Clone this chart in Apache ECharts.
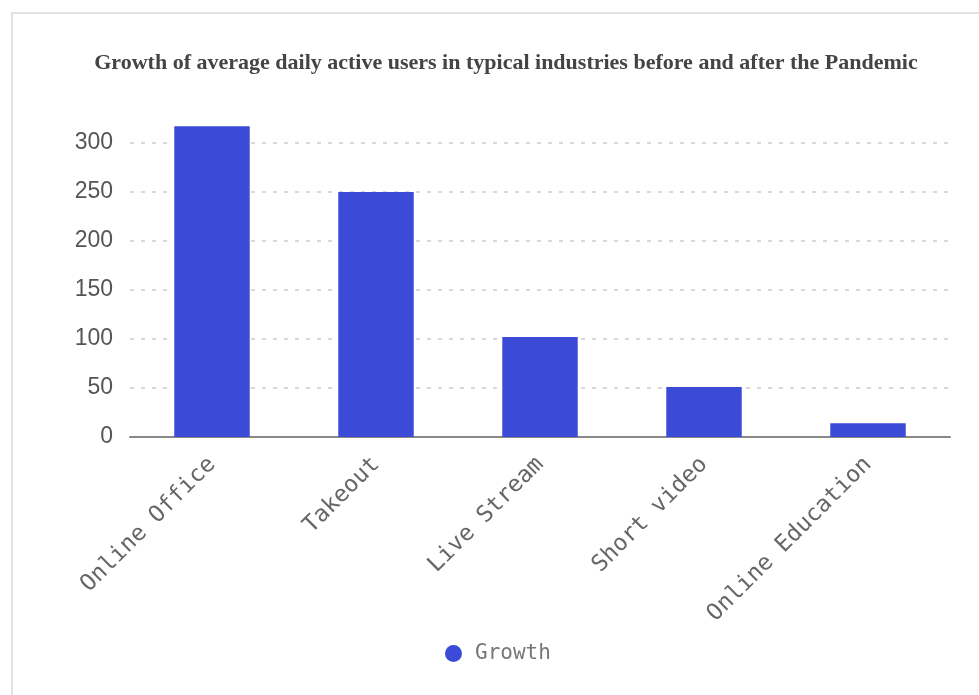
<!DOCTYPE html>
<html>
<head>
<meta charset="utf-8">
<script src="https://cdn.jsdelivr.net/npm/echarts@6/dist/echarts.min.js"></script>
<style>
  html, body { margin: 0; padding: 0; background: #fff; }
  #main { width: 979px; height: 695px; }
</style>
</head>
<body>
<div id="main"></div>
<script>
var categories = ['Online Office', 'Takeout', 'Live Stream', 'Short video', 'Online Education'];
var growth = [317, 250, 102, 51, 14];
var yTicks = [0, 50, 100, 150, 200, 250, 300];

var myChart = echarts.init(document.getElementById('main'));
var option = {
    backgroundColor: '#fff',
    graphic: [{
        type: 'rect',
        shape: { x: 12, y: 13, width: 1000, height: 700 },
        style: { fill: 'none', stroke: '#e2e2e2', lineWidth: 2 },
        z: -1
    }],
    title: {
        text: 'Growth of average daily active users in typical industries before and after the Pandemic',
        left: 501,
        textAlign: 'center',
        top: 47,
        textStyle: {
            fontFamily: 'Liberation Serif',
            fontWeight: 'bold',
            fontSize: 22,
            color: '#444'
        }
    },
    legend: {
        data: ['Growth'],
        top: 638,
        left: 440,
        icon: 'circle',
        itemWidth: 17,
        itemHeight: 17,
        textStyle: {
            fontFamily: 'DejaVu Sans Mono',
            fontSize: 21,
            color: '#777',
            padding: [0, 0, 0, 8]
        }
    },
    grid: {
        left: 130,
        right: 29,
        top: 143,
        bottom: 258,
        containLabel: false
    },
    xAxis: {
        type: 'category',
        data: categories,
        axisLine: { lineStyle: { color: '#888', width: 2 } },
        axisTick: { alignWithLabel: true, length: 5, lineStyle: { color: '#888' } },
        axisLabel: {
            rotate: 45,
            margin: 24,
            fontFamily: 'DejaVu Sans Mono',
            fontSize: 23,
            color: '#666'
        }
    },
    yAxis: {
        type: 'value',
        min: yTicks[0],
        max: yTicks[yTicks.length - 1],
        interval: 50,
        axisLine: { show: false },
        axisTick: { show: false },
        axisLabel: {
            margin: 17,
            fontFamily: 'Liberation Sans',
            fontSize: 23,
            color: '#555'
        },
        splitLine: { lineStyle: { color: '#d9d9d9', type: [4, 7], width: 2 } }
    },
    series: [{
        name: 'Growth',
        type: 'bar',
        data: growth,
        barWidth: '46%',
        clip: false,
        itemStyle: { color: '#3b4bd8' }
    }]
};
myChart.setOption(option);
</script>
</body>
</html>
